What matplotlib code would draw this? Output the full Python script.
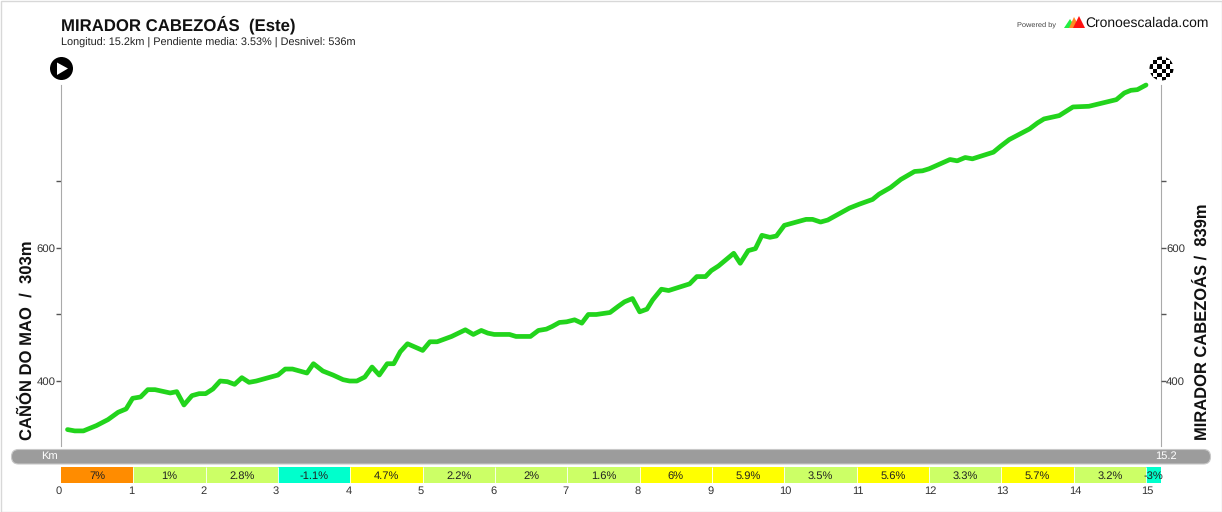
import matplotlib
matplotlib.use("Agg")
import matplotlib.pyplot as plt
from matplotlib.patches import Circle, FancyBboxPatch, Polygon, Rectangle

plt.rcParams["font.family"] = ["Liberation Sans", "DejaVu Sans"]
plt.rcParams["text.hinting"] = "no_hinting"

# profile
km = [
    0.09, 0.19, 0.31, 0.49, 0.65, 0.79, 0.90, 0.99, 1.10, 1.20, 1.30, 1.51, 1.60, 1.70, 1.81, 1.91,
    2.00, 2.10, 2.20, 2.30, 2.40, 2.50, 2.60, 2.70, 3.00, 3.10, 3.20, 3.40, 3.49, 3.62, 3.76, 3.90,
    3.99, 4.09, 4.20, 4.30, 4.40, 4.51, 4.60, 4.69, 4.79, 5.00, 5.10, 5.20, 5.40, 5.59, 5.70, 5.81,
    5.90, 5.99, 6.20, 6.29, 6.49, 6.60, 6.71, 6.79, 6.89, 6.99, 7.10, 7.20, 7.29, 7.40, 7.59, 7.70,
    7.79, 7.90, 8.00, 8.10, 8.18, 8.30, 8.40, 8.69, 8.79, 8.91, 8.99, 9.09, 9.30, 9.39, 9.50, 9.60,
    9.69, 9.80, 9.89, 10.00, 10.30, 10.39, 10.50, 10.60, 10.90, 11.04, 11.22, 11.31, 11.47, 11.61,
    11.80, 11.91, 12.00, 12.29, 12.39, 12.50, 12.60, 12.89, 12.99, 13.11, 13.39, 13.50, 13.59, 13.80,
    13.99, 14.21, 14.59, 14.70, 14.79, 14.88, 15.00,
]
elevation = [
    327, 325, 325, 333, 342, 353, 358, 374, 376, 387, 387, 382, 384, 364, 378, 381,
    381, 388, 400, 399, 395, 405, 398, 400, 409, 418, 418, 412, 426, 415, 409, 402,
    400, 400, 406, 421, 409, 426, 426, 444, 456, 446, 459, 459, 467, 477, 470, 476,
    472, 470, 470, 467, 467, 476, 478, 482, 488, 489, 492, 487, 500, 500, 503, 512,
    519, 524, 504, 508, 522, 538, 536, 546, 557, 557, 566, 573, 592, 577, 596, 599,
    619, 616, 618, 634, 643, 643, 639, 642, 660, 666, 673, 681, 691, 703,
    715, 716, 719, 733, 731, 736, 734, 744, 753, 763, 779, 788, 794, 799,
    812, 813, 823, 833, 837, 838, 845,
]

grades = [7, 1, 2.8, -1.1, 4.7, 2.2, 2, 1.6, 6, 5.9, 3.5, 5.6, 3.3, 5.7, 3.2, -3]
seg_labels = ["7%", "1%", "2.8%", "-1.1%", "4.7%", "2.2%", "2%", "1.6%",
              "6%", "5.9%", "3.5%", "5.6%", "3.3%", "5.7%", "3.2%", "-3%"]
seg_starts = list(range(16))
seg_widths = [1] * 15 + [0.2]
km_ticks = list(range(16))
y_ticks = [400, 500, 600, 700]
y_labels = ["400", "", "600", ""]

W, H = 1222, 512
TOTAL_KM = 15.2


def grade_color(g):
    if g < 0:
        return "#00ffcc"
    if g < 4:
        return "#ccff66"
    if g <= 6:
        return "#ffff00"
    return "#ff8c00"


def px_axes(left, top, right, bottom):
    return [left / W, 1 - bottom / H, (right - left) / W, (bottom - top) / H]


fig = plt.figure(figsize=(W / 100, H / 100), dpi=100)

# overlay in pixel coordinates for the decoration
bg = fig.add_axes([0, 0, 1, 1])
bg.set_xlim(0, W)
bg.set_ylim(H, 0)
bg.axis("off")
bg.add_patch(Rectangle((0.5, 0.5), W - 1, H - 1, fc="white", ec="#d8d8d8", lw=1))

# profile
ax = fig.add_axes(px_axes(61, 85, 1160.5, 446))
ax.patch.set_alpha(0)
ax.plot(km, elevation, color="#22d41c", lw=3.4, solid_capstyle="round", solid_joinstyle="round", clip_on=False)
ax.set_xlim(0, TOTAL_KM)
ax.set_ylim(302.3, 845)
ax.set_xticks([])
ax.set_yticks(y_ticks)
ax.set_yticklabels(y_labels)
ax.tick_params(axis="y", length=3.5, width=1, color="#555555", labelsize=8.2, labelcolor="#333333", pad=0.5)
for side in ["top", "bottom"]:
    ax.spines[side].set_visible(False)
ax.spines["left"].set_color("#aaaaaa")
ax.spines["right"].set_color("#aaaaaa")

ax2 = ax.twinx()
ax2.set_ylim(ax.get_ylim())
ax2.set_yticks(y_ticks)
ax2.set_yticklabels(y_labels)
ax2.tick_params(axis="y", length=3.5, width=1, color="#555555", labelsize=8.2, labelcolor="#333333", pad=0.5)
for side in ["top", "bottom", "left", "right"]:
    ax2.spines[side].set_visible(False)

# km strip
bg.add_patch(FancyBboxPatch((11.5, 449.5), 1199, 14.5, boxstyle="round,pad=0,rounding_size=7",
                            fc="#9c9c9c", ec="#c8c8c8", lw=0.8, zorder=2))
bg.text(41, 456.5, "Km", color="white", fontsize=8, va="center", zorder=3)
bg.text(1155, 456.5, "15.2", color="white", fontsize=8, va="center", zorder=3)

# grade strip
bars = fig.add_axes(px_axes(61, 467, 1160.5, 483))
bars.bar(seg_starts, [1] * len(seg_starts), width=seg_widths, align="edge",
         color=[grade_color(g) for g in grades], edgecolor="none")
bars.vlines(seg_starts[1:], 0, 1, color="white", lw=0.6)
bars.set_xlim(0, TOTAL_KM)
bars.set_ylim(0, 1)
bars.axis("off")
for s, w, label in zip(seg_starts, seg_widths, seg_labels):
    bars.text(s + w / 2, 0.45, label, ha="center", va="center", fontsize=8, color="#222222", clip_on=False)

for k in km_ticks:
    bg.text(61 + k * 1099.5 / TOTAL_KM - 5, 491.5, str(k), ha="left", va="center",
            fontsize=8, color="#333333")

# titles
bg.text(61, 24.8, "MIRADOR CABEZOÁS  (Este)", fontsize=12.1, fontweight="bold", color="#111111", va="center")
bg.text(61, 42.5, "Longitud: 15.2km | Pendiente media: 3.53% | Desnivel: 536m", fontsize=7.8, color="#222222", va="center")
bg.text(27, 440, "CAÑÓN DO MAO  /  303m", fontsize=12, fontweight="bold", rotation=90,
        ha="center", va="bottom", color="#111111")
bg.text(1202.5, 440, "MIRADOR CABEZOÁS /  839m", fontsize=11.9, fontweight="bold", rotation=90,
        ha="center", va="bottom", color="#111111")

# logo
bg.text(1017, 25, "Powered by", fontsize=5.3, color="#444444", va="center")
bg.add_patch(Polygon([(1064, 28), (1070, 19), (1076, 28)], fc="#22ee44", ec="none"))
bg.add_patch(Polygon([(1069, 28), (1074, 17), (1080, 28)], fc="#ff8822", ec="none"))
bg.add_patch(Polygon([(1073, 28), (1079, 16), (1085, 28)], fc="#ff1111", ec="none"))
bg.text(1085, 23.5, "Cronoescalada.com", fontsize=10, color="#111111", va="center")

# start marker
bg.add_patch(Circle((61.5, 68.5), 11.5, fc="black", ec="none"))
bg.add_patch(Polygon([(57, 62.5), (57, 75), (68, 68.5)], fc="white", ec="none"))

# finish marker
flag = Circle((1161.5, 68.5), 12, fc="white", ec="none", transform=bg.transData)
bg.add_patch(flag)
size = 4.4
for i in range(6):
    for j in range(6):
        if (i + j) % 2 == 0:
            sq = Rectangle((1148.3 + i * size, 55.3 + j * size), size, size, fc="black", ec="none")
            bg.add_patch(sq)
            sq.set_clip_path(flag)

fig.savefig("out.png", dpi=100)
